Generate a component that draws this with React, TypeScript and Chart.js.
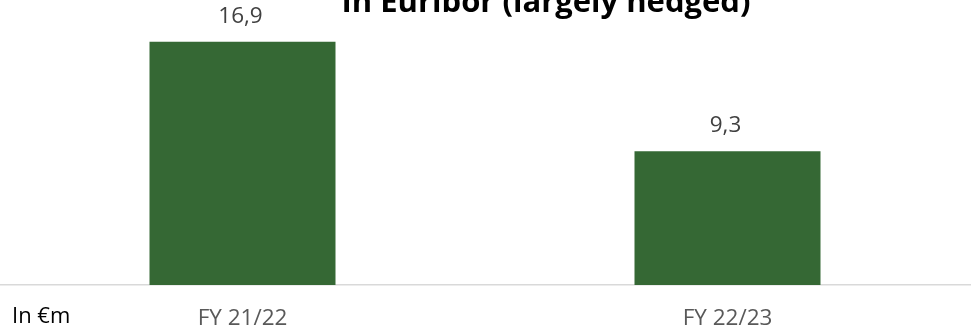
import React, { useEffect, useRef } from "react";
import { Chart, registerables } from "chart.js";

Chart.register(...registerables);

const categories = ["FY 21/22", "FY 22/23"];
const values = [16.9, 9.3];
const titleText = "In Euribor (largely hedged)";
const unitText = "In €m";

const FONT = "'Open Sans', sans-serif";

const overlayPlugin = {
  id: "overlay",
  afterDatasetsDraw(chart: any) {
    const ctx = chart.ctx;
    ctx.save();
    // value labels
    const meta = chart.getDatasetMeta(0);
    ctx.fillStyle = "#404040";
    ctx.font = `22.5px ${FONT}`;
    ctx.textAlign = "center";
    ctx.textBaseline = "alphabetic";
    meta.data.forEach((bar: any, i: number) => {
      const v = values[i];
      ctx.fillText(v.toFixed(1).replace(".", ","), bar.x - 2, bar.y - 19);
    });
    // title (partially cut at the top)
    ctx.fillStyle = "#000000";
    ctx.font = `bold 31px ${FONT}`;
    ctx.textAlign = "center";
    ctx.fillText(titleText, 546, 12);
    // unit
    ctx.font = `22px ${FONT}`;
    ctx.textAlign = "left";
    ctx.fillText(unitText, 12, 323);
    ctx.restore();
  },
};

export default function App() {
  const ref = useRef<HTMLCanvasElement>(null);
  useEffect(() => {
    const chart = new Chart(ref.current as HTMLCanvasElement, {
      type: "bar",
      data: {
        labels: categories,
        datasets: [
          {
            data: values,
            backgroundColor: "#356834",
            borderWidth: 0,
            categoryPercentage: 1,
            barPercentage: 0.3835,
          },
        ],
      },
      options: {
        responsive: false,
        animation: false,
        layout: { padding: { left: 0, right: 4, top: 0, bottom: 0 } },
        plugins: {
          legend: { display: false },
          tooltip: { enabled: false },
          title: { display: false },
        },
        scales: {
          x: {
            grid: { display: false },
            border: { display: true, color: "#d9d9d9", width: 1.5 },
            ticks: {
              color: "#595959",
              font: { family: FONT, size: 22.5 },
              padding: 12,
            },
            afterFit(scale: any) {
              scale.height = 46;
            },
          },
          y: {
            display: false,
            min: 0,
            max: 19.8,
          },
        },
      },
      plugins: [overlayPlugin],
    });
    return () => chart.destroy();
  }, []);
  return (
    <div style={{ position: "fixed", left: 0, top: 0, width: 974, height: 331, background: "#fff" }}>
      <canvas ref={ref} width={974} height={331} />
    </div>
  );
}
